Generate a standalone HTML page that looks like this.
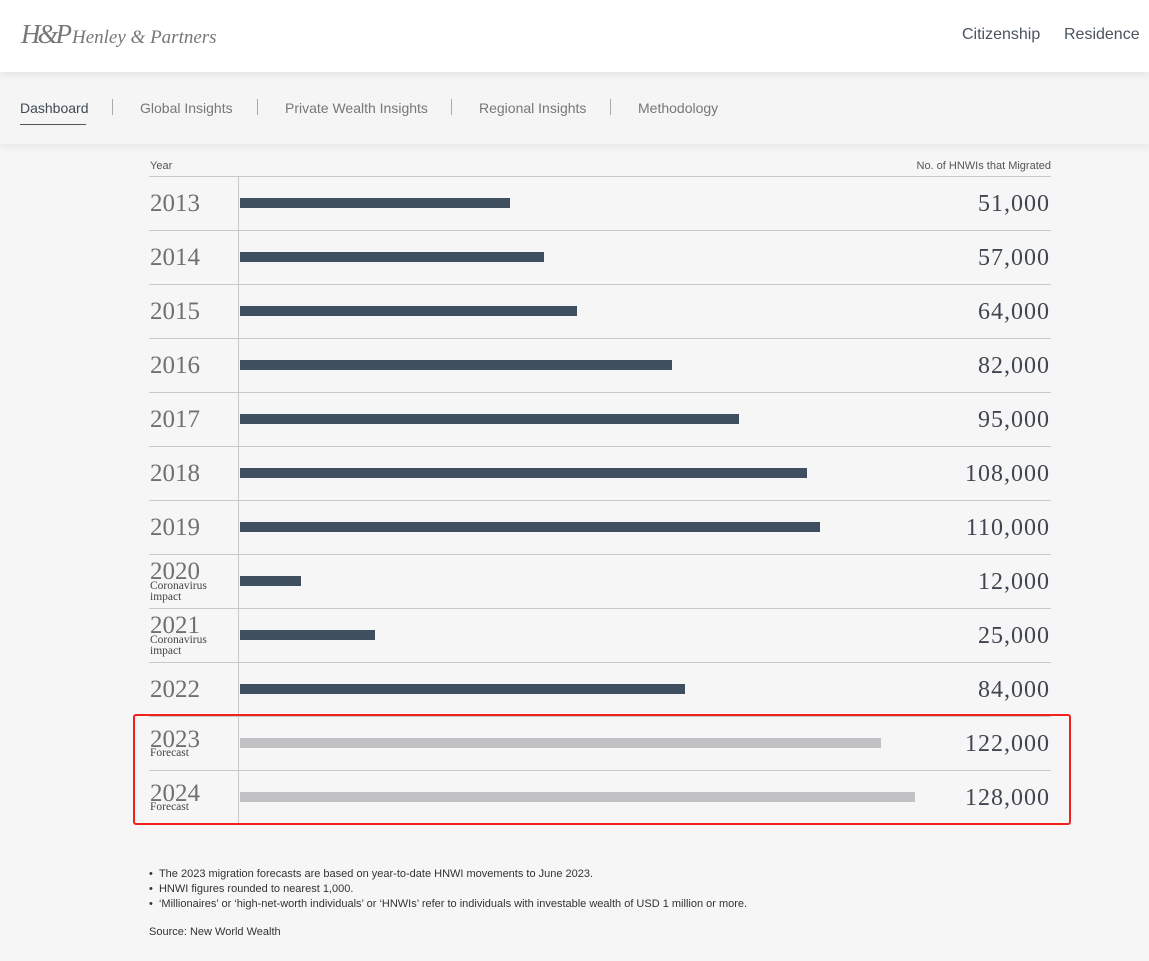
<!DOCTYPE html>
<html><head><meta charset="utf-8"><style>
*{margin:0;padding:0;box-sizing:border-box}
body{width:1149px;height:961px;background:#f6f6f6;position:relative;overflow:hidden;font-family:"Liberation Sans",sans-serif}
.hdr{position:absolute;left:0;top:0;width:1149px;height:72px;background:#fff;z-index:2;box-shadow:0 2px 8px rgba(0,0,0,.08)}
.nav{position:absolute;left:0;top:72px;width:1149px;height:72px;background:#f5f5f5;box-shadow:0 3px 8px rgba(0,0,0,.07);z-index:1}
.a{position:absolute;white-space:nowrap}
.line{position:absolute;left:149px;width:902px;height:1px;background:#c8c8c8}
.yr{position:absolute;left:150px;font-family:"Liberation Serif",serif;font-size:25px;color:#707070;line-height:1}
.sub{position:absolute;left:150px;font-family:"Liberation Serif",serif;font-size:11.5px;color:#444;line-height:11px}
.num{position:absolute;right:99px;font-family:"Liberation Serif",serif;font-size:24px;letter-spacing:1px;color:#3f4650;line-height:1}
.bar{position:absolute;left:240px;height:10px;background:#3f4f5f}
.g{background:#c2c2c4}
</style></head><body>
<div class="hdr">
<div class="a" style="left:21px;top:19px;font-family:'Liberation Serif',serif;font-style:italic;font-size:27px;color:#777;letter-spacing:-3px">H&amp;P</div>
<div class="a" style="left:72px;top:27px;font-family:'Liberation Serif',serif;font-style:italic;font-size:19px;color:#777">Henley &amp; Partners</div>
<div class="a" style="left:962px;top:26px;font-size:16px;color:#4a5460">Citizenship</div>
<div class="a" style="left:1064px;top:26px;font-size:16px;color:#4a5460">Residence</div>
</div>
<div class="nav">
<div class="a" style="left:20px;top:28px;font-size:14px;color:#3f4a55">Dashboard</div>
<div class="a" style="left:20px;top:52px;width:66px;height:1px;background:#555"></div>
<div class="a" style="left:112px;top:27px;width:1px;height:16px;background:#aaa"></div>
<div class="a" style="left:140px;top:28px;font-size:14px;color:#777">Global Insights</div>
<div class="a" style="left:257px;top:27px;width:1px;height:16px;background:#aaa"></div>
<div class="a" style="left:285px;top:28px;font-size:14px;color:#777">Private Wealth Insights</div>
<div class="a" style="left:451px;top:27px;width:1px;height:16px;background:#aaa"></div>
<div class="a" style="left:479px;top:28px;font-size:14px;color:#777">Regional Insights</div>
<div class="a" style="left:610px;top:27px;width:1px;height:16px;background:#aaa"></div>
<div class="a" style="left:638px;top:28px;font-size:14px;color:#777">Methodology</div>
</div>
<div class="a" style="left:150px;top:160px;font-size:11px;color:#555">Year</div>
<div class="a" style="right:98px;top:160px;font-size:11px;color:#555">No. of HNWIs that Migrated</div>
<div class="a" style="left:238px;top:177px;width:1px;height:647px;background:#c8c8c8"></div>
<div class="line" style="top:176px"></div>
<div class="line" style="top:230px"></div>
<div class="line" style="top:284px"></div>
<div class="line" style="top:338px"></div>
<div class="line" style="top:392px"></div>
<div class="line" style="top:446px"></div>
<div class="line" style="top:500px"></div>
<div class="line" style="top:554px"></div>
<div class="line" style="top:608px"></div>
<div class="line" style="top:662px"></div>
<div class="line" style="top:716px"></div>
<div class="line" style="top:770px"></div>

<div class="yr" style="top:191px">2013</div><div class="bar" style="top:198px;width:270px"></div><div class="num" style="top:192px">51,000</div>
<div class="yr" style="top:245px">2014</div><div class="bar" style="top:252px;width:304px"></div><div class="num" style="top:246px">57,000</div>
<div class="yr" style="top:299px">2015</div><div class="bar" style="top:306px;width:337px"></div><div class="num" style="top:300px">64,000</div>
<div class="yr" style="top:353px">2016</div><div class="bar" style="top:360px;width:432px"></div><div class="num" style="top:354px">82,000</div>
<div class="yr" style="top:407px">2017</div><div class="bar" style="top:414px;width:499px"></div><div class="num" style="top:408px">95,000</div>
<div class="yr" style="top:461px">2018</div><div class="bar" style="top:468px;width:567px"></div><div class="num" style="top:462px">108,000</div>
<div class="yr" style="top:515px">2019</div><div class="bar" style="top:522px;width:580px"></div><div class="num" style="top:516px">110,000</div>
<div class="yr" style="top:559px">2020</div><div class="sub" style="top:581px">Coronavirus<br>impact</div><div class="bar" style="top:576px;width:61px"></div><div class="num" style="top:570px">12,000</div>
<div class="yr" style="top:613px">2021</div><div class="sub" style="top:635px">Coronavirus<br>impact</div><div class="bar" style="top:630px;width:135px"></div><div class="num" style="top:624px">25,000</div>
<div class="yr" style="top:677px">2022</div><div class="bar" style="top:684px;width:445px"></div><div class="num" style="top:678px">84,000</div>
<div class="yr" style="top:727px">2023</div><div class="sub" style="top:748px">Forecast</div><div class="bar g" style="top:738px;width:641px"></div><div class="num" style="top:732px">122,000</div>
<div class="yr" style="top:781px">2024</div><div class="sub" style="top:802px">Forecast</div><div class="bar g" style="top:792px;width:675px"></div><div class="num" style="top:786px">128,000</div>

<div class="a" style="left:133px;top:714px;width:938px;height:111px;border:2px solid #f3221c;border-radius:3px"></div>

<div class="a" style="left:149px;top:867px;font-size:11px;color:#333;line-height:15px">
• &nbsp;The 2023 migration forecasts are based on year-to-date HNWI movements to June 2023.<br>
• &nbsp;HNWI figures rounded to nearest 1,000.<br>
• &nbsp;‘Millionaires’ or ‘high-net-worth individuals’ or ‘HNWIs’ refer to individuals with investable wealth of USD 1 million or more.</div>
<div class="a" style="left:149px;top:926px;font-size:11px;color:#333">Source: New World Wealth</div>
</body></html>
